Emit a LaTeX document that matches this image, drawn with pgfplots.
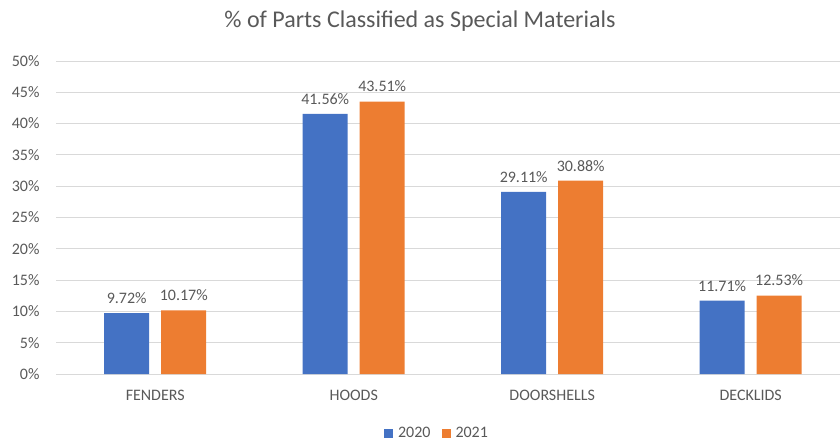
\documentclass[border=0pt]{standalone}
\usepackage{pgfplots}
\pgfplotsset{compat=1.18}
\usepackage{fontspec}
\setmainfont{Carlito}
\definecolor{cblue}{HTML}{4472C4}
\definecolor{corange}{HTML}{ED7D31}
\definecolor{cgrid}{HTML}{D9D9D9}
\definecolor{ctext}{HTML}{595959}
\begin{document}
\begin{tikzpicture}[x=1pt,y=1pt]
\useasboundingbox (0,0) rectangle (840,442);
\node[text=ctext,font=\fontsize{24}{28}\selectfont] at (420,421) {\% of Parts Classified as Special Materials};
\begin{axis}[
  at={(56pt,68pt)}, anchor=south west,
  scale only axis, width=784pt, height=313pt,
  ymin=0, ymax=50, ytick={0,5,...,50},
  xmin=-0.5, xmax=3.45,
  xtick={0,1,2,3},
  xticklabels={FENDERS,HOODS,DOORSHELLS,DECKLIDS},
  ymajorgrids, grid style={cgrid, line width=1pt},
  axis line style={draw=none},
  tick style={draw=none},
  yticklabel={\pgfmathprintnumber[assume math mode=true]{\tick}\%},
  ticklabel style={text=ctext, font=\fontsize{16}{18}\selectfont},
  yticklabel style={xshift=-13pt},
  xticklabel style={yshift=-8pt},
  ybar, bar width=45pt,
  nodes near coords={\pgfmathprintnumber[fixed,fixed zerofill,precision=2,assume math mode=true]{\pgfplotspointmeta}\%},
  every node near coord/.append style={text=ctext, font=\fontsize{16}{18}\selectfont, yshift=6pt},
  legend columns=2,
  legend style={at={(0.486,0)}, anchor=north, yshift=-49pt, draw=none, font=\fontsize{16}{18}\selectfont, text=ctext,
    /tikz/every odd column/.append style={column sep=3pt},
    /tikz/every even column/.append style={column sep=9pt}},
  legend image code/.code={\fill[#1] (0pt,-4.5pt) rectangle (9pt,4.5pt);},
]
\addplot[fill=cblue, draw=none, bar shift=-28.5pt] coordinates {(0,9.72) (1,41.56) (2,29.11) (3,11.71)};
\addplot[fill=corange, draw=none, bar shift=28.5pt] coordinates {(0,10.17) (1,43.51) (2,30.88) (3,12.53)};
\legend{2020,2021}
\end{axis}
\end{tikzpicture}
\end{document}
